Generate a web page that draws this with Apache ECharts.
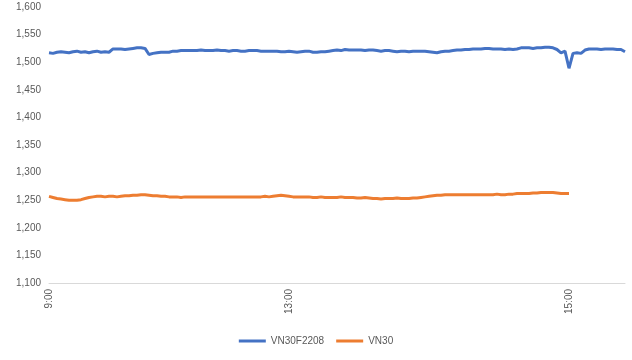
<!DOCTYPE html>
<html>
<head>
<meta charset="utf-8">
<script src="https://cdn.jsdelivr.net/npm/echarts@6/dist/echarts.min.js"></script>
<style>html,body{margin:0;padding:0;background:#fff;}#c{width:632px;height:360px;}</style>
</head>
<body>
<div id="c"></div>
<script>
const categories = Array.from({length: 145}, (_, i) => String(i));
const tickLabels = {0: '9:00', 60: '13:00', 130: '15:00'};
const yTicks = {min: 1100, max: 1600, interval: 50};

const vn30f2208 = [
  1517,1516,1518,1519,1518,1517,1519,1520,1518,1519,1517,1519,1520,1518,1519,1518,
  1524,1524,1524,1523,1524,1525,1526,1526,1525,
  1514,1516,1517,1518,1518,1518,
  1520,1520,1521,1521,1521,1521,1521,1522,1521,1521,
  1521,1522,1521,1521,1520,1521,1521,1520,1520,1521,
  1521,1521,1520,1520,1520,1520,1520,1519,1519,1520,
  1519,1518,1519,1520,1520,
  1518,1518,1519,1519,1520,1521,
  1522,1521,1523,
  1522,1522,1522,1522,1521,1522,1522,1521,1520,1521,1521,
  1520,1519,1520,1520,1519,1520,1520,1520,1520,1519,1518,1517,1519,1520,1520,
  1521,1522,1522,1523,1523,1524,1524,
  1524,1525,1525,1524,1524,1524,1523,1524,1523,1524,
  1526,1526,1526,1525,1526,1526,1527,1527,
  1526,1523,1517,1520,1489,1516,1517,1516,1522,1524,1524,1524,1523,1524,1524,1524,1523,1523,1519
];

const vn30 = [
  1257,1255,1253,1252,1251,1250,1250,1250,1251,1253,1255,1256,1257,1257,
  1256,1257,1257,1256,1257,1258,1258,1259,1259,1260,1260,1259,1258,1258,1257,1257,1256,
  1256,1256,1255,1256,1256,1256,1256,1256,1256,1256,
  1256,1256,1256,1256,1256,1256,1256,1256,1256,1256,
  1256,1256,1256,1257,1256,1257,1258,1259,1258,1257,
  1256,1256,1256,1256,1256,
  1255,1255,1256,1255,1255,1255,1255,1256,1255,1255,1255,1254,1254,1255,1254,
  1253,1253,1252,1253,1253,1253,1254,1253,1253,1253,1254,
  1254,1255,1256,1257,1258,1259,1259,
  1260,1260,1260,1260,1260,1260,1260,1260,1260,1260,1260,1260,1260,1261,1260,1260,
  1261,1261,1262,1262,1262,1262,
  1263,1263,1264,1264,1264,1264,
  1263,1262,1262,1262
];

const chart = echarts.init(document.getElementById('c'));
const font = 'Liberation Sans, Arial, sans-serif';
chart.setOption({
  animation: false,
  backgroundColor: '#ffffff',
  grid: {left: 49, right: 7, top: 7, bottom: 77, containLabel: false},
  legend: {
    bottom: 9,
    left: 'center',
    itemWidth: 27,
    itemHeight: 3,
    itemGap: 12,
    icon: 'rect',
    textStyle: {color: '#595959', fontSize: 10, fontFamily: font},
    data: ['VN30F2208', 'VN30']
  },
  xAxis: {
    type: 'category',
    data: categories,
    boundaryGap: false,
    axisLine: {lineStyle: {color: '#d9d9d9', width: 1}},
    axisTick: {show: false},
    splitLine: {show: false},
    axisLabel: {
      rotate: 90,
      margin: 6,
      color: '#595959',
      fontSize: 10,
      fontFamily: font,
      interval: function (index) { return tickLabels.hasOwnProperty(index); },
      formatter: function (value, index) { return tickLabels[index] || ''; }
    }
  },
  yAxis: {
    type: 'value',
    min: yTicks.min,
    max: yTicks.max,
    interval: yTicks.interval,
    axisLine: {show: false},
    axisTick: {show: false},
    splitLine: {show: false},
    axisLabel: {
      margin: 8,
      color: '#595959',
      fontSize: 10,
      fontFamily: font,
      formatter: function (v) { return v.toLocaleString('en-US'); }
    }
  },
  series: [
    {name: 'VN30F2208', type: 'line', data: vn30f2208, showSymbol: false, symbol: 'none',
     lineStyle: {color: '#4472C4', width: 3}, itemStyle: {color: '#4472C4'}},
    {name: 'VN30', type: 'line', data: vn30, showSymbol: false, symbol: 'none',
     lineStyle: {color: '#ED7D31', width: 3}, itemStyle: {color: '#ED7D31'}}
  ]
});
</script>
</body>
</html>
